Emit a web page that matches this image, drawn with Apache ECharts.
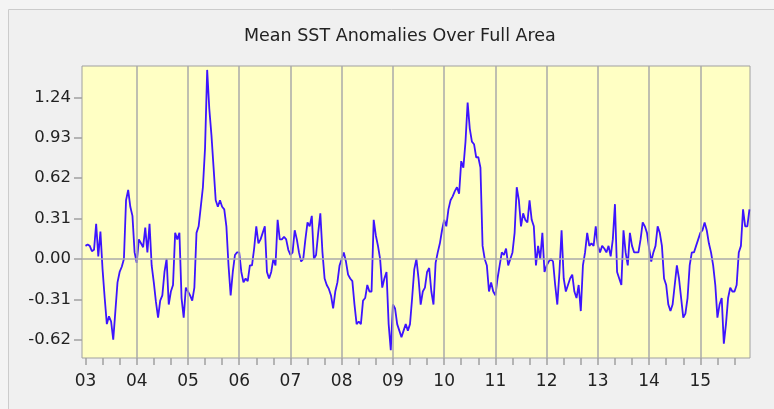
<!DOCTYPE html>
<html>
<head>
<meta charset="utf-8">
<script src="https://cdn.jsdelivr.net/npm/echarts@6/dist/echarts.min.js"></script>
<style>
  html, body { margin: 0; padding: 0; background: #f4f4f4; }
  #chart { width: 774px; height: 409px; }
</style>
</head>
<body>
<div id="chart"></div>
<script>
// 半月一个点，2003 年 1 月起
const startYear = 2003
const pointsPerYear = 24

const yearTicks = [2003, 2004, 2005, 2006, 2007, 2008, 2009, 2010, 2011, 2012, 2013, 2014, 2015]
const yTickValues = [-0.62, -0.31, 0.00, 0.31, 0.62, 0.93, 1.24]

// 平均海温距平（每行一年）
const anomalies = [
  0.10, 0.11, 0.10, 0.06, 0.07, 0.27, 0.02, 0.21, -0.08, -0.30, -0.50, -0.44, -0.48, -0.62, -0.40, -0.18, -0.10, -0.06, 0.00, 0.45, 0.53, 0.40, 0.33, 0.05,
  -0.03, 0.15, 0.12, 0.09, 0.24, 0.05, 0.27, -0.05, -0.18, -0.33, -0.45, -0.32, -0.28, -0.10, 0.00, -0.35, -0.25, -0.20, 0.20, 0.15, 0.20, -0.30, -0.45, -0.22,
  -0.25, -0.28, -0.32, -0.22, 0.20, 0.25, 0.40, 0.55, 0.85, 1.45, 1.15, 0.95, 0.70, 0.45, 0.40, 0.45, 0.40, 0.38, 0.25, -0.05, -0.28, -0.10, 0.03, 0.05,
  0.05, -0.10, -0.18, -0.15, -0.17, -0.05, -0.05, 0.08, 0.25, 0.12, 0.15, 0.20, 0.25, -0.10, -0.15, -0.10, 0.00, -0.05, 0.30, 0.15, 0.15, 0.17, 0.15, 0.07,
  0.03, 0.05, 0.22, 0.15, 0.05, -0.02, 0.00, 0.15, 0.28, 0.25, 0.33, 0.00, 0.03, 0.20, 0.35, 0.05, -0.15, -0.20, -0.23, -0.28, -0.38, -0.25, -0.18, -0.05,
  0.00, 0.05, -0.02, -0.12, -0.15, -0.17, -0.35, -0.50, -0.48, -0.50, -0.32, -0.30, -0.20, -0.25, -0.25, 0.30, 0.18, 0.10, 0.00, -0.22, -0.15, -0.10, -0.50, -0.70,
  -0.35, -0.38, -0.50, -0.55, -0.60, -0.55, -0.50, -0.55, -0.50, -0.30, -0.08, 0.00, -0.15, -0.35, -0.25, -0.22, -0.10, -0.07, -0.25, -0.35, -0.03, 0.05, 0.12, 0.22,
  0.30, 0.25, 0.38, 0.45, 0.48, 0.52, 0.55, 0.50, 0.75, 0.70, 0.90, 1.20, 1.00, 0.90, 0.88, 0.78, 0.78, 0.70, 0.10, 0.00, -0.05, -0.25, -0.18, -0.25,
  -0.28, -0.15, -0.05, 0.05, 0.03, 0.08, -0.05, 0.00, 0.05, 0.20, 0.55, 0.45, 0.25, 0.35, 0.30, 0.28, 0.45, 0.30, 0.25, -0.05, 0.10, 0.00, 0.20, -0.10,
  -0.05, -0.02, 0.00, -0.02, -0.20, -0.35, -0.10, 0.22, -0.15, -0.25, -0.20, -0.15, -0.12, -0.25, -0.30, -0.20, -0.40, -0.05, 0.05, 0.20, 0.10, 0.12, 0.10, 0.25,
  0.10, 0.05, 0.10, 0.08, 0.05, 0.10, 0.02, 0.15, 0.42, -0.10, -0.15, -0.20, 0.22, 0.05, -0.05, 0.20, 0.10, 0.05, 0.05, 0.05, 0.15, 0.28, 0.25, 0.20,
  0.08, -0.02, 0.05, 0.10, 0.25, 0.20, 0.10, -0.15, -0.20, -0.35, -0.40, -0.35, -0.20, -0.05, -0.15, -0.30, -0.45, -0.42, -0.30, -0.05, 0.05, 0.05, 0.10, 0.15,
  0.20, 0.22, 0.28, 0.22, 0.12, 0.05, -0.05, -0.20, -0.45, -0.35, -0.30, -0.65, -0.50, -0.30, -0.22, -0.25, -0.25, -0.20, 0.05, 0.10, 0.38, 0.25, 0.25, 0.38
]

// 次刻度：每 4 个月一个
const minorTicks = []
for (let y = 2003; y <= 2015; y++) {
  minorTicks.push(y, y + 1 / 3, y + 2 / 3)
}

const seriesData = anomalies.map((v, i) => [startYear + i / pointsPerYear, v])

const gridLines = yearTicks.slice(1).map(y => ({ xAxis: y }))
gridLines.push({ yAxis: 0 })

const fontFamily = 'DejaVu Sans'

const chart = echarts.init(document.getElementById('chart'))

chart.setOption({
  backgroundColor: '#f4f4f4',
  animation: false,
  graphic: [
    {
      type: 'rect',
      z: -10,
      shape: { x: 8.5, y: 9.5, width: 800, height: 420 },
      style: { fill: '#f0f0f0', stroke: '#cccccc', lineWidth: 1 }
    }
  ],
  title: {
    text: 'Mean SST Anomalies Over Full Area',
    left: 239,
    top: 22,
    textStyle: {
      fontFamily: fontFamily,
      fontSize: 17.5,
      fontWeight: 'normal',
      color: '#222222'
    }
  },
  grid: {
    left: 82,
    top: 66,
    right: 24,
    bottom: 51,
    show: true,
    backgroundColor: '#ffffc4',
    borderColor: '#a0a0a0',
    borderWidth: 1
  },
  xAxis: {
    type: 'value',
    min: 2002.932,
    max: 2015.969,
    axisLine: { show: false, onZero: false },
    splitLine: { show: false },
    axisTick: {
      show: true,
      customValues: minorTicks,
      length: 7,
      lineStyle: { color: '#a0a0a0', width: 1.5 }
    },
    axisLabel: {
      customValues: yearTicks,
      margin: 15,
      fontFamily: fontFamily,
      fontSize: 17,
      color: '#222222',
      formatter: v => String(Math.round(v) % 100).padStart(2, '0')
    }
  },
  yAxis: {
    type: 'value',
    min: -0.76,
    max: 1.48,
    axisLine: { show: false, onZero: false },
    splitLine: { show: false },
    axisTick: {
      show: true,
      customValues: yTickValues,
      length: 8,
      lineStyle: { color: '#a0a0a0', width: 1.5 }
    },
    axisLabel: {
      customValues: yTickValues,
      margin: 11,
      fontFamily: fontFamily,
      fontSize: 16.5,
      color: '#222222',
      formatter: v => v.toFixed(2)
    }
  },
  series: [
    {
      type: 'line',
      data: seriesData,
      showSymbol: false,
      lineStyle: { color: '#3d14ff', width: 1.8 },
      markLine: {
        silent: true,
        symbol: ['none', 'none'],
        label: { show: false },
        lineStyle: { color: '#aaaaaa', width: 1.5, type: 'solid' },
        data: gridLines
      },
      z: 3
    }
  ]
})
</script>
</body>
</html>
